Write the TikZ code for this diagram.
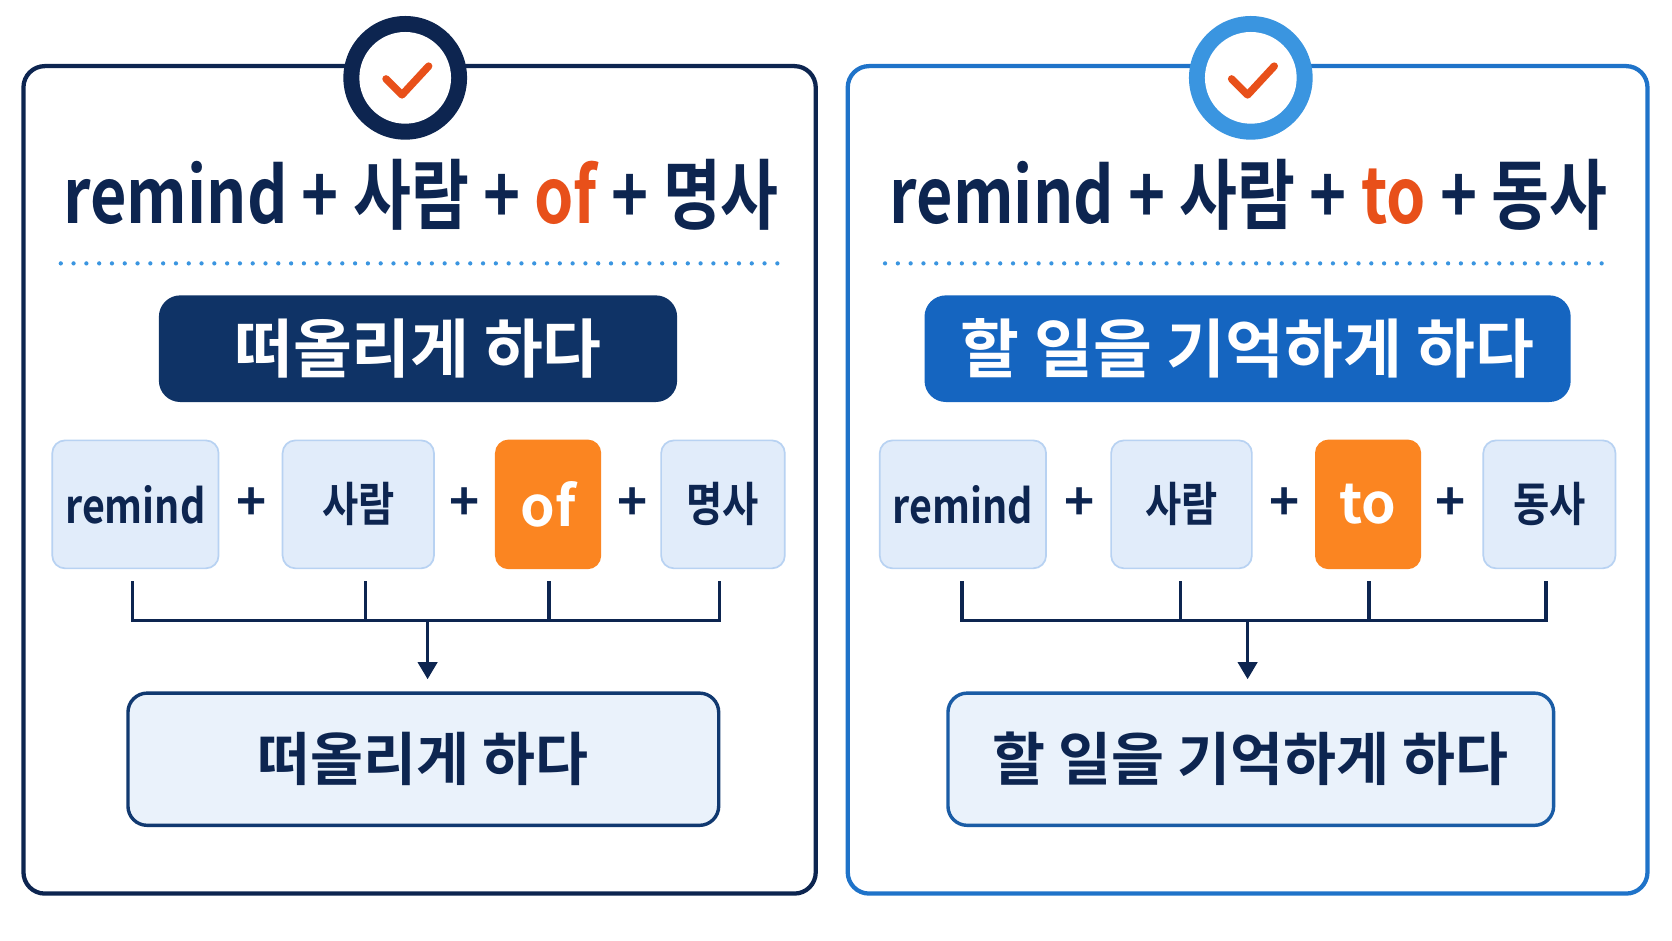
\documentclass[tikz,border=0pt]{standalone}
\usepackage{fontspec}
\setmainfont{Noto Sans CJK KR}
\newfontfamily\kr{Noto Sans CJK KR Bold}
\usetikzlibrary{arrows.meta}
\definecolor{navy}{HTML}{0D2550}
\definecolor{deepblue}{HTML}{0F3366}
\definecolor{midblue}{HTML}{1F73C9}
\definecolor{ringblue}{HTML}{3A95E0}
\definecolor{boxblue}{HTML}{1565C0}
\definecolor{paleblue}{HTML}{E1ECFA}
\definecolor{paleedge}{HTML}{B8D2F2}
\definecolor{orng}{HTML}{FB8521}
\definecolor{tick}{HTML}{E8501A}
\newcommand{\narrow}[1]{\scalebox{0.84}[1]{#1}}
\tikzset{
  panel/.style={line width=2pt, rounded corners=10pt, fill=white},
  part/.style={draw=paleedge, fill=paleblue, line width=0.8pt, rounded corners=6pt,
    minimum height=60pt, inner sep=0pt, font=\kr\fontsize{22}{22}\selectfont, text=navy},
  key/.style={part, draw=orng, fill=orng, text=white, font=\kr\fontsize{26}{26}\selectfont},
  plus/.style={font=\kr\fontsize{24}{24}\selectfont, text=navy},
  title/.style={text=navy, font=\kr\fontsize{36}{36}\selectfont},
  meaning/.style={rounded corners=10pt, minimum height=50pt, text=white,
    font=\kr\fontsize{30}{30}\selectfont},
  result/.style={draw=#1, fill=paleblue!70, line width=1.6pt, rounded corners=9pt,
    minimum height=62pt, text=navy, font=\kr\fontsize{27}{27}\selectfont},
  bracket/.style={navy, line width=1.6pt},
}
\begin{document}
\begin{tikzpicture}[x=0.5pt, y=-0.5pt, >={Triangle[length=8pt,width=9pt]}]
  \useasboundingbox (0,0) rectangle (1568,882);
  % left panel
  \draw[panel, draw=navy] (22,62) rectangle (765,838);
  \fill[navy] (380,73) circle (29pt);
  \fill[white] (380,73) circle (21.5pt);
  \draw[tick, line width=3.5pt, line cap=round, line join=round] (362,74) -- (377,89) -- (402,62);
  \node[title] (t1) at (395,183)
    {\scalebox{0.82}[1]{remind + 사람 + \textcolor{tick}{of} + 명사}};
  \draw[ringblue, line width=2pt, line cap=round, dash pattern=on 0pt off 6pt] (57,247) -- (733,247);
  \node[meaning, fill=deepblue, minimum width=243pt] (m1) at (392,327) {떠올리게 하다};
  \node[part, minimum width=78pt] (a1) at (127,473) {\narrow{remind}};
  \node[part, minimum width=71pt] (b1) at (336,473) {\narrow{사람}};
  \node[key, minimum width=49pt] (c1) at (514,473) {of};
  \node[part, minimum width=58pt] (d1) at (678,473) {\narrow{명사}};
  \node[plus] at (236,473) {+};
  \node[plus] at (436,473) {+};
  \node[plus] at (593,473) {+};
  \draw[bracket] (124,545) |- (675,582) -- (675,545);
  \draw[bracket] (343,545) -- (343,582);
  \draw[bracket] (515,545) -- (515,582);
  \node[result=deepblue!90!midblue, minimum width=277pt] (r1) at (397,712) {떠올리게 하다};
  \draw[bracket, ->] (401,582) -- (401,637);
  % right panel
  \draw[panel, draw=midblue] (795,62) rectangle (1545,838);
  \fill[ringblue] (1173,73) circle (29pt);
  \fill[white] (1173,73) circle (21.5pt);
  \draw[tick, line width=3.5pt, line cap=round, line join=round] (1155,74) -- (1170,89) -- (1195,62);
  \node[title] (t2) at (1171,183)
    {\scalebox{0.82}[1]{remind + 사람 + \textcolor{tick}{to} + 동사}};
  \draw[ringblue, line width=2pt, line cap=round, dash pattern=on 0pt off 6pt] (830,247) -- (1512,247);
  \node[meaning, fill=boxblue, minimum width=303pt] (m2) at (1170,327) {할 일을 기억하게 하다};
  \node[part, minimum width=78pt] (a2) at (903,473) {\narrow{remind}};
  \node[part, minimum width=66pt] (b2) at (1108,473) {\narrow{사람}};
  \node[key, minimum width=49pt] (c2) at (1283,473) {to};
  \node[part, minimum width=62pt] (d2) at (1453,473) {\narrow{동사}};
  \node[plus] at (1012,473) {+};
  \node[plus] at (1205,473) {+};
  \node[plus] at (1360,473) {+};
  \draw[bracket] (902,545) |- (1450,582) -- (1450,545);
  \draw[bracket] (1107,545) -- (1107,582);
  \draw[bracket] (1284,545) -- (1284,582);
  \node[result=midblue!70!navy, minimum width=284pt] (r2) at (1173,712) {할 일을 기억하게 하다};
  \draw[bracket, ->] (1170,582) -- (1170,637);
\end{tikzpicture}
\end{document}
